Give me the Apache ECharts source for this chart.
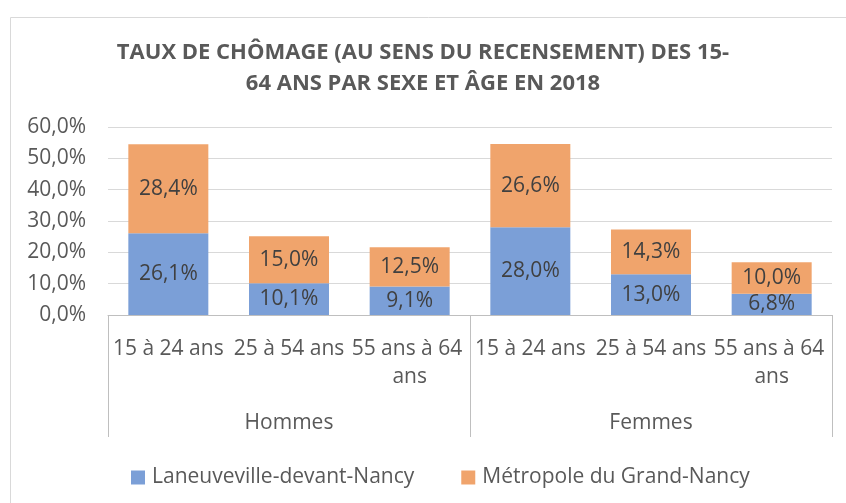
<!DOCTYPE html>
<html>
<head>
<meta charset="utf-8">
<script src="https://cdn.jsdelivr.net/npm/echarts@6/dist/echarts.min.js"></script>
<style>html,body{margin:0;padding:0;background:#fff}#c{width:846px;height:503px}</style>
</head>
<body>
<div id="c"></div>
<script>
const titleText = 'TAUX DE CHÔMAGE (AU SENS DU RECENSEMENT) DES 15-\n64 ANS PAR SEXE ET ÂGE EN 2018';
const ageCategories = ['15 à 24 ans', '25 à 54 ans', '55 ans à 64 ans', '15 à 24 ans', '25 à 54 ans', '55 ans à 64 ans'];
const sexGroups = ['Hommes', 'Femmes'];
const seriesNames = ['Laneuveville-devant-Nancy', 'Métropole du Grand-Nancy'];
const laneuveville = [26.1, 10.1, 9.1, 28.0, 13.0, 6.8];
const metropole = [28.4, 15.0, 12.5, 26.6, 14.3, 10.0];
const yTicks = [0, 10, 20, 30, 40, 50, 60];

const FONT = '"Open Sans", "Noto Sans", sans-serif';
const fmt = v => v.toFixed(1).replace('.', ',') + '%';

const chart = echarts.init(document.getElementById('c'));
chart.setOption({
  animation: false,
  textStyle: { fontFamily: FONT },
  graphic: [{
    type: 'rect', left: 8, top: 15,
    shape: { width: 860, height: 510 },
    style: { fill: 'none', stroke: '#d9d9d9', lineWidth: 1 }, silent: true
  }],
  title: {
    text: titleText, left: 'center', top: 32,
    textStyle: { fontSize: 22, fontWeight: 'bold', color: '#595959', lineHeight: 31, fontFamily: FONT }
  },
  legend: {
    left: 126, top: 462, itemWidth: 14, itemHeight: 14, itemGap: 47,
    icon: 'rect',
    textStyle: { fontSize: 21, color: '#595959', fontFamily: FONT, padding: [0, 0, 0, 2] },
    data: seriesNames
  },
  grid: { left: 108, right: 14, top: 127, bottom: 188, containLabel: false },
  xAxis: [{
    type: 'category', data: ageCategories, position: 'bottom',
    axisLine: { show: true, lineStyle: { color: '#bfbfbf' } },
    axisTick: { show: false },
    axisLabel: { color: '#595959', fontSize: 21, margin: 20, lineHeight: 28, width: 128, overflow: 'break', interval: 0, fontFamily: FONT }
  }, {
    type: 'category', data: sexGroups, position: 'bottom',
    axisLine: { show: false },
    axisTick: { show: true, length: 122, lineStyle: { color: '#bfbfbf' } },
    axisLabel: { color: '#595959', fontSize: 21, margin: 98, fontFamily: FONT }
  }],
  yAxis: {
    type: 'value', min: yTicks[0], max: yTicks[yTicks.length - 1], interval: 10,
    axisLine: { show: false }, axisTick: { show: false },
    splitLine: { lineStyle: { color: '#d9d9d9' } },
    axisLabel: { color: '#595959', fontSize: 21, margin: 22, formatter: v => fmt(v), fontFamily: FONT }
  },
  series: [{
    name: seriesNames[0], type: 'bar', stack: 's', barWidth: 80, xAxisIndex: 0,
    itemStyle: { color: '#7b9fd7' },
    label: { show: true, position: 'inside', fontSize: 21, color: '#404040', formatter: p => fmt(p.value), fontFamily: FONT },
    data: laneuveville
  }, {
    name: seriesNames[1], type: 'bar', stack: 's', barWidth: 80, xAxisIndex: 0,
    itemStyle: { color: '#f0a46c' },
    label: { show: true, position: 'inside', fontSize: 21, color: '#404040', formatter: p => fmt(p.value), fontFamily: FONT },
    data: metropole
  }]
});
</script>
</body>
</html>
